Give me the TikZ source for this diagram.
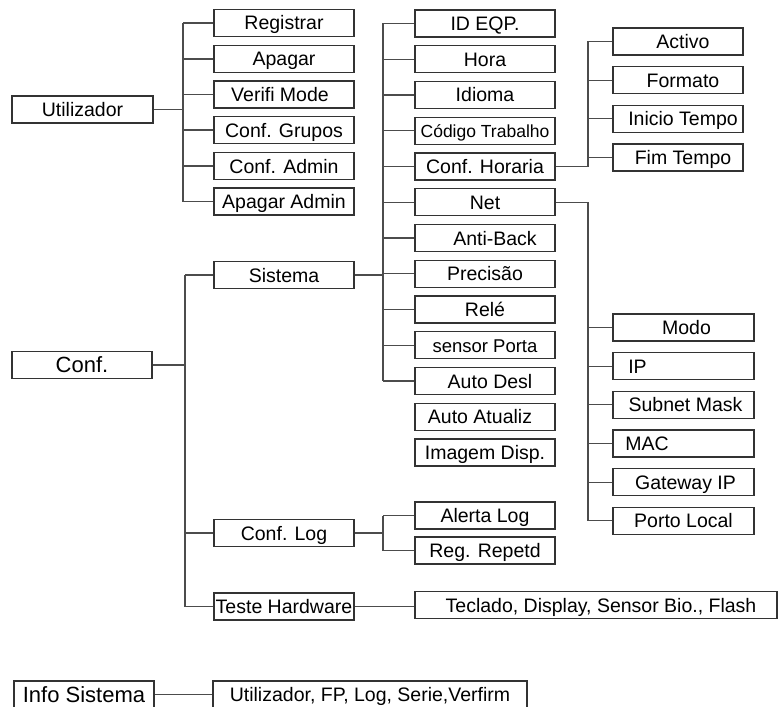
\documentclass[tikz,border=0pt]{standalone}
\usepackage{fontspec}
\setmainfont{Liberation Sans}
\newcommand{\shiftedtext}[2]{\makebox[0pt][c]{\hspace*{#1}#2}}
\tikzset{
  bx/.style={draw=black!80, line width=1.1pt, inner sep=0pt, minimum height=27pt,
    text height=14pt, text depth=0pt, fill=white, font=\fontsize{19.5}{22}\selectfont},
  smallfont/.style={font=\fontsize{17.5}{20}\selectfont},
  midfont/.style={font=\fontsize{18.5}{21}\selectfont},
  bigfont/.style={font=\fontsize{22}{25}\selectfont, text height=15.5pt},
  ln/.style={draw=black!70, line width=1.1pt},
}
\begin{document}
\begin{tikzpicture}[x=1pt,y=-1pt]
\useasboundingbox (0,0) rectangle (778,706);
\clip (0,0) rectangle (778,706);
% buses
\coordinate (ubus) at (183,0);
\coordinate (cbus) at (185,0);
\coordinate (sbus) at (383,0);
\coordinate (hbus) at (588,0);

% Utilizador branch
\node[bx, minimum width=141pt] (util) at (82.5,109.5) {Utilizador};
\begin{scope}[every node/.style={bx, minimum width=140pt}]
\node (reg)   at (284,23)    {Registrar};
\node (apa)   at (284,59)    {Apagar};
\node (ver)   at (284,94.5)  {\shiftedtext{-8pt}{Verifi Mode}};
\node (grp)   at (284,130)   {Conf. Grupos};
\node (adm)   at (284,166)   {Conf. Admin};
\node (apadm) at (284,201.5) {Apagar Admin};
\end{scope}
\draw[ln] (util.east) -- (util.east -| ubus);
\draw[ln] (reg.west -| ubus) -- (apadm.west -| ubus);
\foreach \n in {reg,apa,ver,grp,adm,apadm} \draw[ln] (\n.west) -- (\n.west -| ubus);

% Conf branch
\node[bx, bigfont, minimum width=140pt] (conf) at (82,365) {Conf.};
\node[bx, minimum width=140pt] (sis)  at (284,275) {Sistema};
\node[bx, minimum width=140pt] (clog) at (284,533) {Conf. Log};
\node[bx, minimum width=140pt] (hw)   at (284,606.5) {Teste Hardware};
\draw[ln] (conf.east) -- (conf.east -| cbus);
\draw[ln] (sis.west -| cbus) -- (hw.west -| cbus);
\foreach \n in {sis,clog,hw} \draw[ln] (\n.west) -- (\n.west -| cbus);

% Sistema column
\begin{scope}[every node/.style={bx, minimum width=140pt}]
\node (ideqp) at (485,23.5)   {ID EQP.};
\node (hora)  at (485,59.25)  {Hora};
\node (idi)   at (485,95)     {Idioma};
\node[smallfont] (cod) at (485,130.75) {Código Trabalho};
\node (hor)   at (485,166.5)  {Conf. Horaria};
\node (net)   at (485,202.25) {Net};
\node (anti)  at (485,238)    {\shiftedtext{20pt}{Anti-Back}};
\node (prec)  at (485,273.75) {Precisão};
\node (rele)  at (485,309.5)  {Relé};
\node[midfont] (sens) at (485,345.25) {sensor Porta};
\node (adesl) at (485,381)    {\shiftedtext{10pt}{Auto Desl}};
\node (aatu)  at (485,416.75) {\shiftedtext{-10pt}{Auto Atualiz}};
\node (img)   at (485,452.5)  {Imagem Disp.};
\end{scope}
\draw[ln] (sis.east) -- (sis.east -| sbus);
\draw[ln] (ideqp.west -| sbus) -- (adesl.west -| sbus);
\foreach \n in {ideqp,hora,idi,cod,hor,net,anti,prec,rele,sens,adesl} \draw[ln] (\n.west) -- (\n.west -| sbus);

% Conf. Horaria sub-column
\begin{scope}[every node/.style={bx, minimum width=130pt}]
\node (act) at (678,41.5)  {\shiftedtext{10pt}{Activo}};
\node (fmt) at (678,80.2)  {\shiftedtext{10pt}{Formato}};
\node (ini) at (678,118.8) {\shiftedtext{10pt}{Inicio Tempo}};
\node (fim) at (678,157.5) {\shiftedtext{10pt}{Fim Tempo}};
\end{scope}
\draw[ln] (hor.east) -- (hor.east -| hbus);
\draw[ln] (act.west -| hbus) -- (hor.east -| hbus);
\foreach \n in {act,fmt,ini,fim} \draw[ln] (\n.west) -- (\n.west -| hbus);

% Net sub-column
\begin{scope}[every node/.style={bx, minimum width=141pt}]
\node (modo) at (683.5,327.5) {\shiftedtext{6pt}{Modo}};
\node (ip)   at (683.5,366.2) {\shiftedtext{-92pt}{IP}};
\node (sub)  at (683.5,404.8) {\shiftedtext{4pt}{Subnet Mask}};
\node (mac)  at (683.5,443.5) {\shiftedtext{-73pt}{MAC}};
\node (gw)   at (683.5,482.2) {\shiftedtext{4pt}{Gateway IP}};
\node (porto) at (683.5,520.8) {Porto Local};
\end{scope}
\draw[ln] (net.east) -- (net.east -| hbus);
\draw[ln] (net.east -| hbus) -- (porto.west -| hbus);
\foreach \n in {modo,ip,sub,mac,gw,porto} \draw[ln] (\n.west) -- (\n.west -| hbus);

% Conf. Log sub-column
\node[bx, minimum width=140pt] (alert) at (485,515.5) {Alerta Log};
\node[bx, minimum width=140pt] (rep)   at (485,550.5) {Reg. Repetd};
\draw[ln] (clog.east) -- (clog.east -| sbus);
\draw[ln] (alert.west -| sbus) -- (rep.west -| sbus);
\foreach \n in {alert,rep} \draw[ln] (\n.west) -- (\n.west -| sbus);

% Teste Hardware
\node[bx, minimum width=362pt] (tec) at (596,605) {\shiftedtext{10pt}{Teclado, Display, Sensor Bio., Flash}};
\draw[ln] (hw.east) -- (hw.east -| tec.west);

% Info Sistema
\node[bx, bigfont, minimum width=140pt] (info) at (84,694.5) {Info Sistema};
\node[bx, minimum width=314pt] (ufp)  at (370,694.5) {Utilizador, FP, Log, Serie,Verfirm};
\draw[ln] (info.east) -- (ufp.west);
\end{tikzpicture}
\end{document}
